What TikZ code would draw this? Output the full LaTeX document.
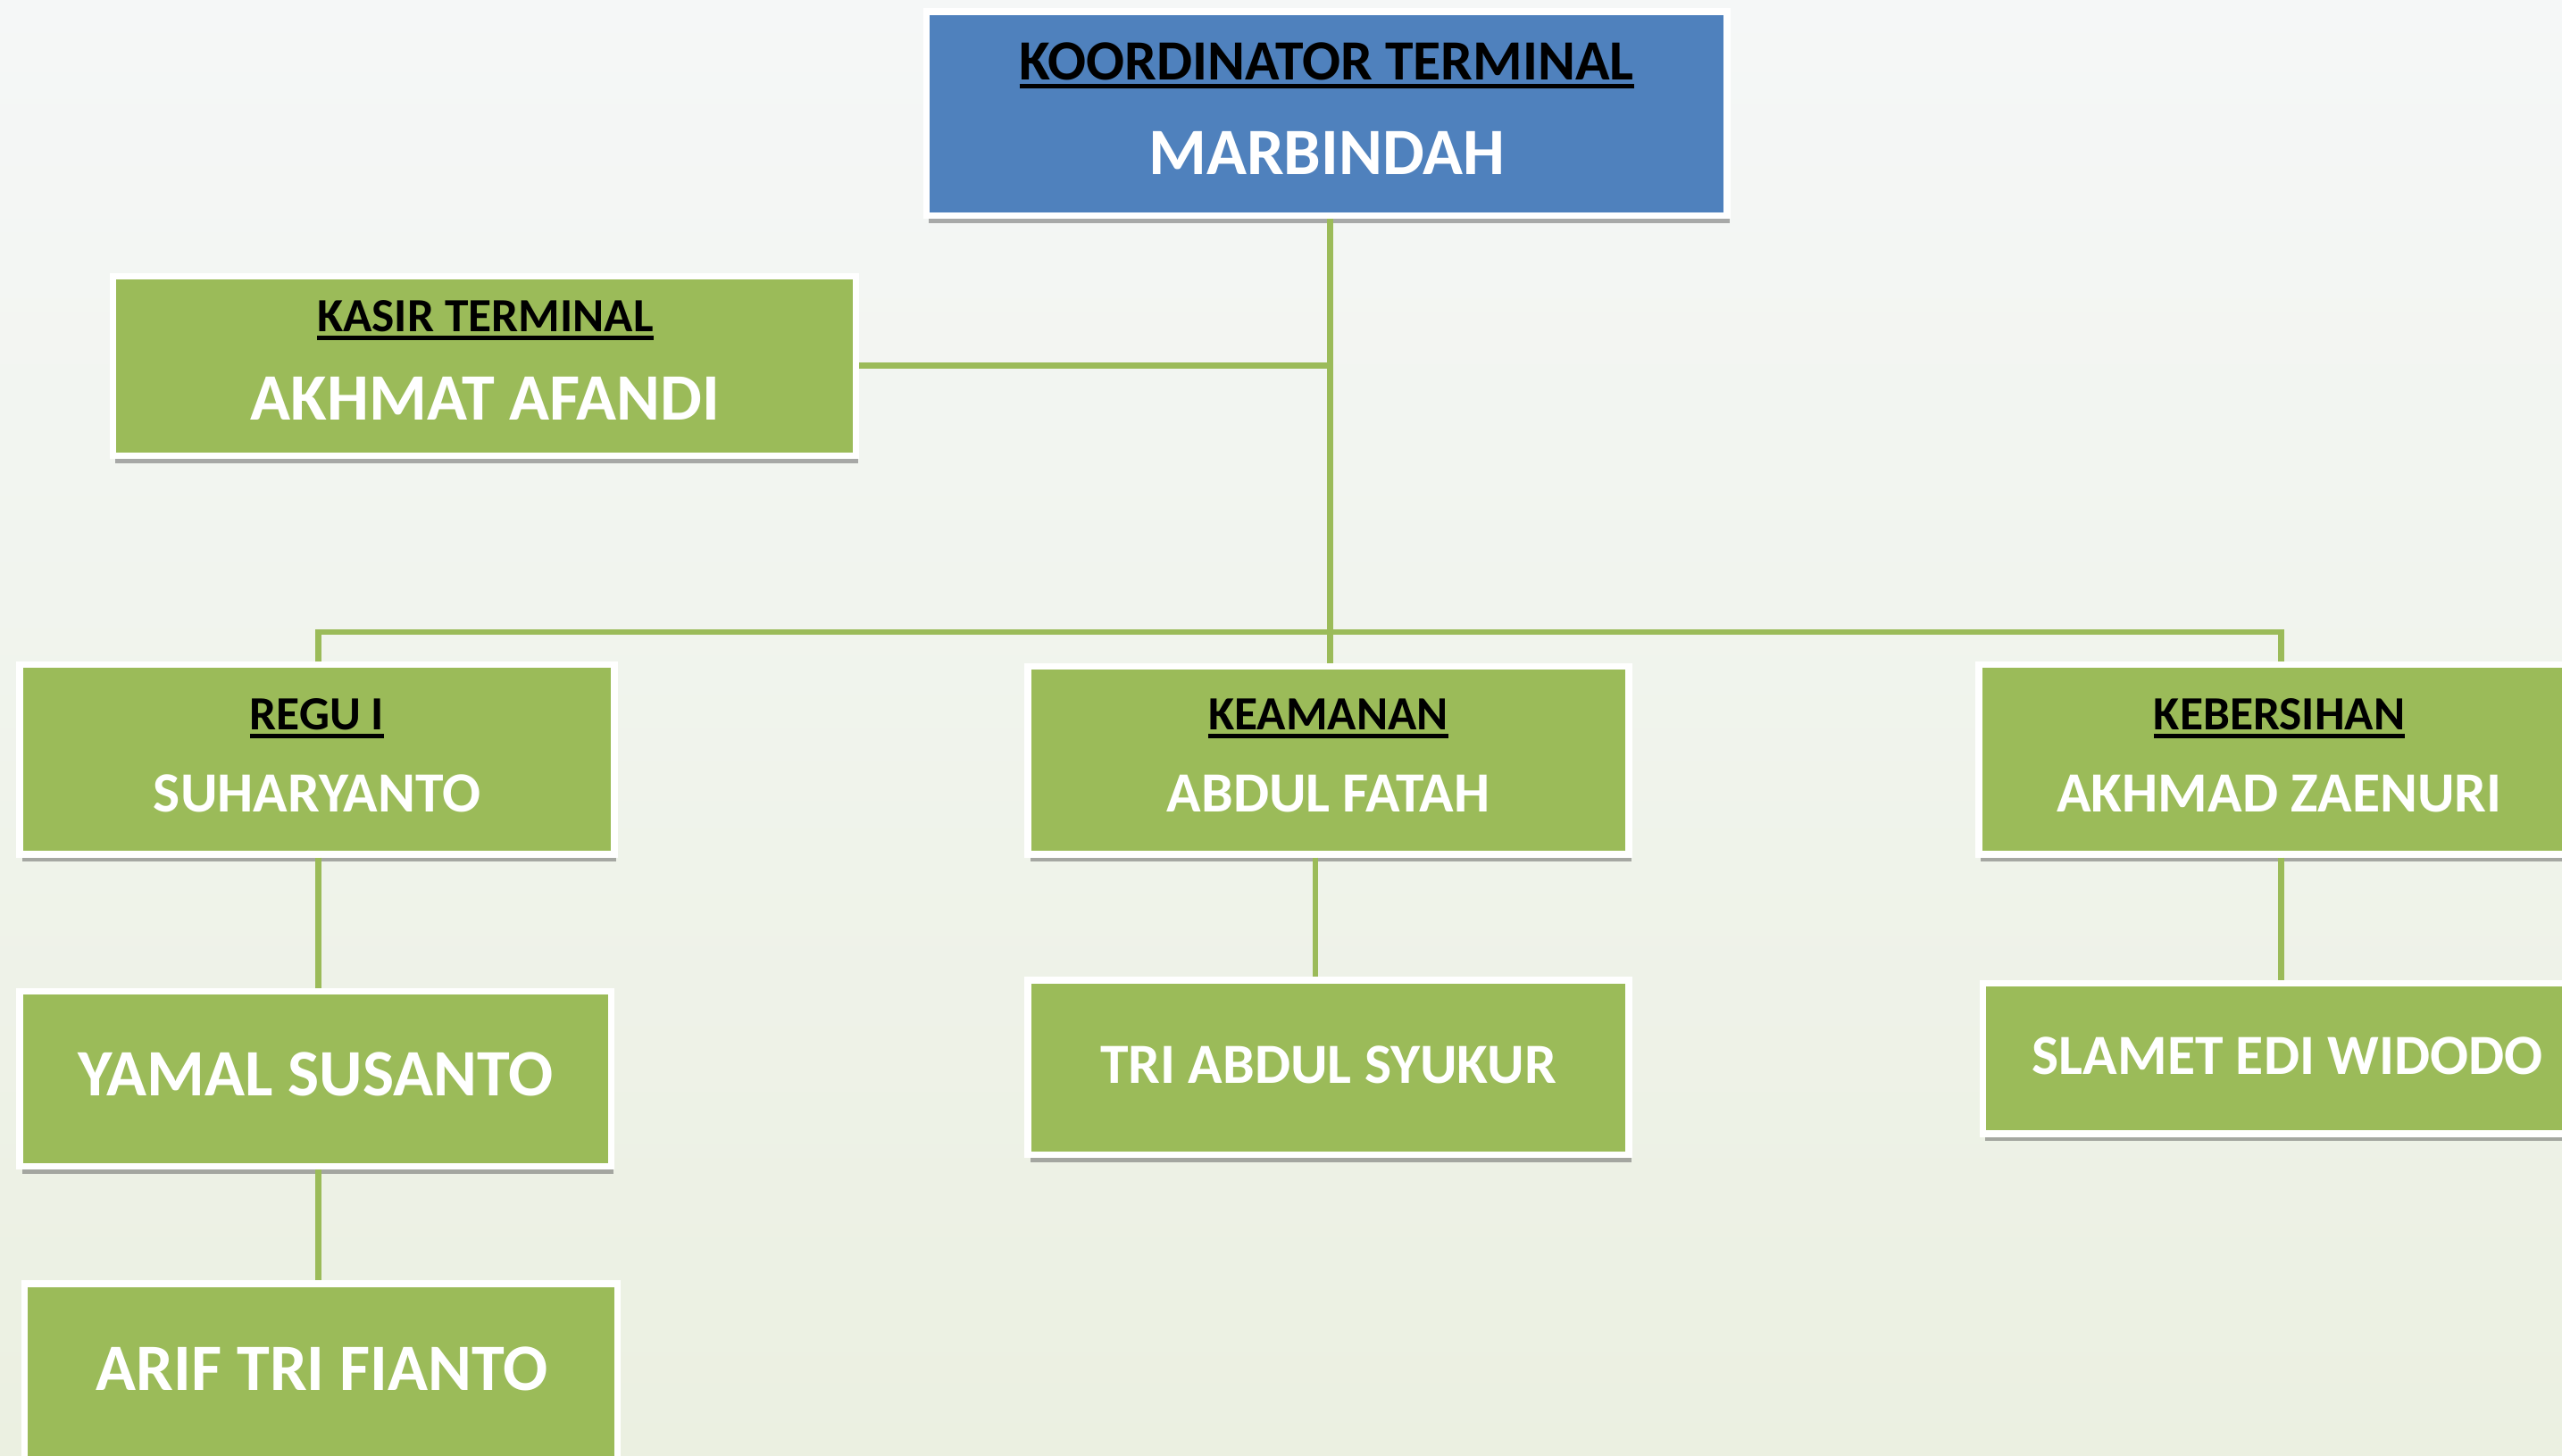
\documentclass[tikz,border=0pt]{standalone}
\usepackage{fontspec}
\setmainfont{Carlito}
\usetikzlibrary{shadows}
\definecolor{boxgreen}{HTML}{9BBB59}
\definecolor{boxblue}{HTML}{4F81BD}
\definecolor{bgtop}{HTML}{F5F7F7}
\definecolor{bgbot}{HTML}{EBF0E1}
\newsavebox\ulbox
\newcommand{\hdline}[1]{\sbox\ulbox{#1}\rlap{\usebox\ulbox}\rule[-2.9pt]{\wd\ulbox}{1.5pt}}

\begin{document}
\begin{tikzpicture}[x=0.02cm,y=-0.02cm]
\tikzset{orgbox/.style = {shape=rectangle,draw=white,line width=2.3pt,fill=boxgreen,inner sep=0pt,
  drop shadow={shadow xshift=0.8pt,shadow yshift=-2.6pt,fill=black!70,opacity=0.45}}}
\tikzset{link/.style = {draw=boxgreen,line width=2.1pt}}
\tikzset{headtext/.style = {inner sep=0pt,anchor=base,text=black,font=\bfseries\fontsize{16.6}{18}\selectfont}}
\tikzset{nametext/.style = {inner sep=0pt,anchor=base,text=white,font=\bfseries\fontsize{19.8}{22}\selectfont}}
\tikzset{bignametext/.style = {inner sep=0pt,anchor=base,text=white,font=\bfseries\fontsize{23.1}{26}\selectfont}}
\shade[top color=bgtop,bottom color=bgbot] (0,0) rectangle (1568,891);
\useasboundingbox (0,0) rectangle (1568,891);
\node[orgbox,fill=boxblue,minimum width=9.8cm,minimum height=2.5cm](koord) at (812,69.5) {};
\node[orgbox,minimum width=9.1cm,minimum height=2.2cm](kasir) at (296.5,224) {};
\node[orgbox,minimum width=7.28cm,minimum height=2.32cm](regu) at (194,465) {};
\node[orgbox,minimum width=7.36cm,minimum height=2.3cm](keam) at (813,465.5) {};
\node[orgbox,minimum width=7.4cm,minimum height=2.32cm](keber) at (1396,465) {};
\node[orgbox,minimum width=7.24cm,minimum height=2.14cm](yamal) at (193,660.5) {};
\node[orgbox,minimum width=7.26cm,minimum height=2.88cm](arif) at (196.5,858) {};
\node[orgbox,minimum width=7.36cm,minimum height=2.14cm](tri) at (813,653.5) {};
\node[orgbox,minimum width=7.3cm,minimum height=1.84cm](slamet) at (1396,648) {};
\coordinate(bar) at (814,387);
\coordinate(regudrop) at (195,387);
\draw[link] (kasir.east) -- (kasir.east -| bar);
\draw[link] (koord.south -| bar) -- (keam.north -| bar);
\draw[link] (regu.north -| regudrop) |- (bar) -| (keber.north);
\draw[link] (regu.south -| regudrop) -- (yamal.north -| regudrop);
\draw[link] (yamal.south -| regudrop) -- (arif.north -| regudrop);
\draw[link] ([xshift=-0.16cm]keam.south) -- ([xshift=-0.16cm]tri.north);
\draw[link] (keber.south) -- (slamet.north);
\node[headtext,font=\bfseries\fontsize{19.8}{22}\selectfont](koordT) at (812,49) {\hdline{KOORDINATOR TERMINAL}};
\node[bignametext](koordN) at (812,107) {MARBINDAH};
\node[headtext](kasirT) at (297,203) {\hdline{KASIR TERMINAL}};
\node[bignametext](kasirN) at (297,257) {AKHMAT AFANDI};
\node[headtext](reguT) at (194,447) {\hdline{REGU I}};
\node[nametext](reguN) at (194,497) {SUHARYANTO};
\node[headtext](keamT) at (813,447) {\hdline{KEAMANAN}};
\node[nametext](keamN) at (813,497) {ABDUL FATAH};
\node[headtext](keberT) at (1395,447) {\hdline{KEBERSIHAN}};
\node[nametext](keberN) at (1395,497) {AKHMAD ZAENURI};
\node[bignametext](yamalN) at (193,671) {YAMAL SUSANTO};
\node[bignametext](arifN) at (197,851) {ARIF TRI FIANTO};
\node[nametext](triN) at (813,663) {TRI ABDUL SYUKUR};
\node[nametext](slametN) at (1400,658) {SLAMET EDI WIDODO};
\end{tikzpicture}
\end{document}
